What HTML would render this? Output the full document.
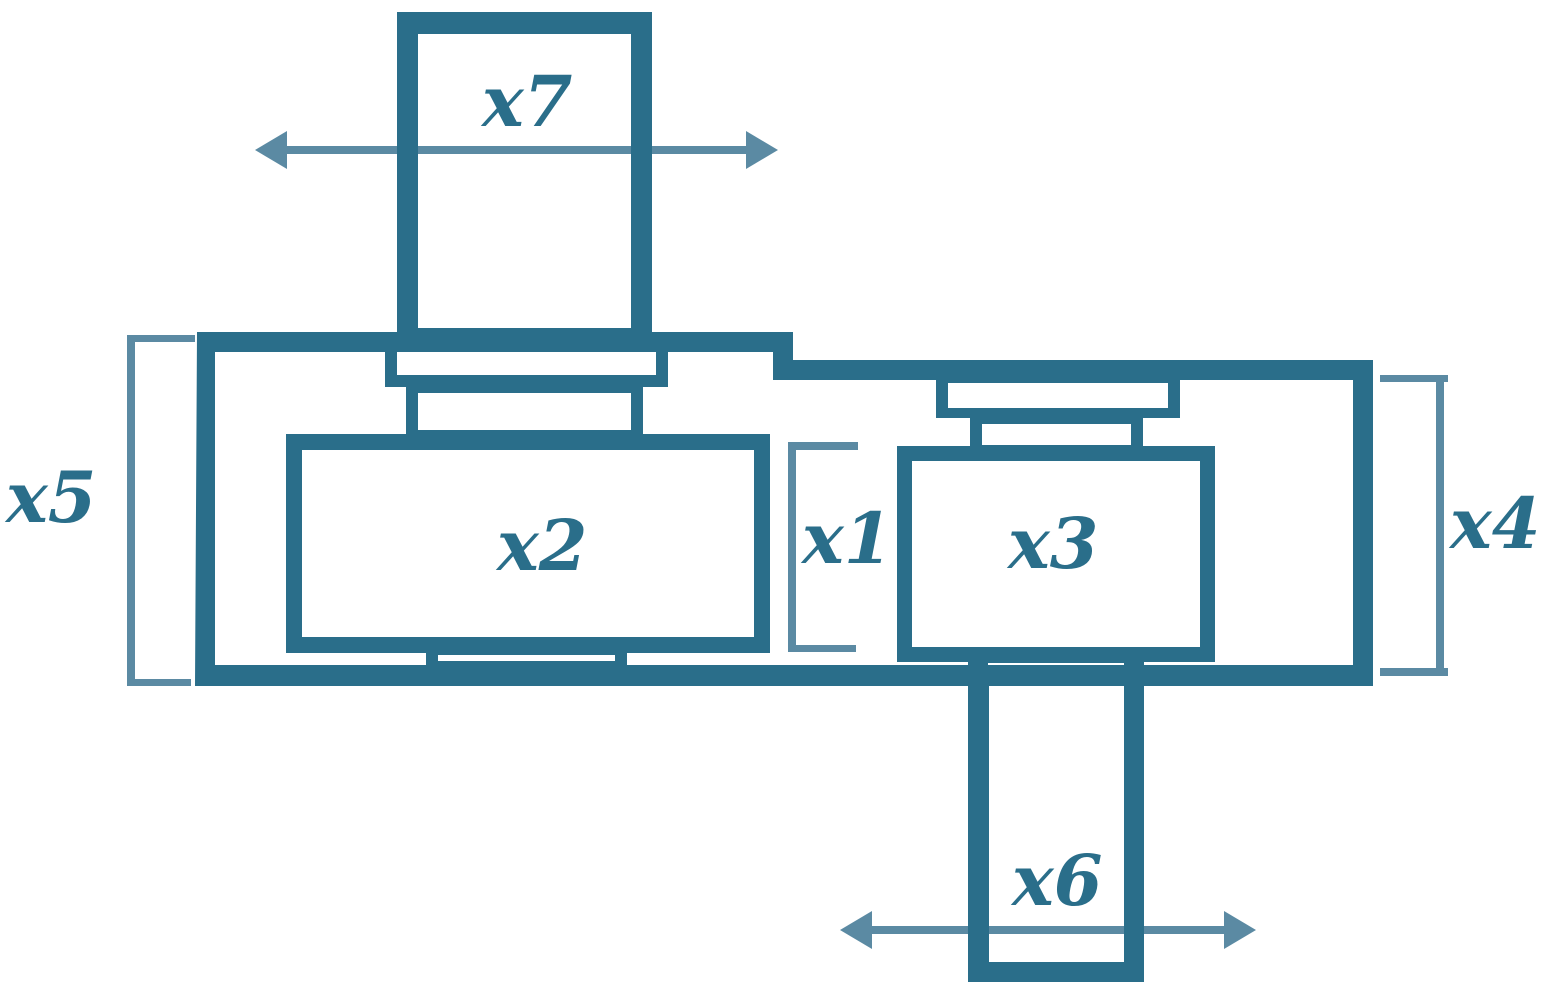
<!DOCTYPE html>
<html><head><meta charset="utf-8"><style>
html,body{margin:0;padding:0;background:#fff;}
svg{display:block;}
text{font-family:"DejaVu Serif","Liberation Serif",serif;font-weight:bold;font-style:italic;font-size:70px;fill:#2a6e8a;}
</style></head><body>
<svg width="1553" height="999" viewBox="0 0 1553 999" xmlns="http://www.w3.org/2000/svg">
<g fill="#5b8aa3">
<rect x="280" y="146" width="470" height="8"/>
<polygon points="255,150 287,131 287,169"/>
<polygon points="778,150 746,131 746,169"/>
<rect x="865" y="926" width="365" height="8"/>
<polygon points="840,930 872,911 872,949"/>
<polygon points="1256,930 1224,911 1224,949"/>
<rect x="127" y="335" width="8" height="351"/>
<rect x="127" y="335" width="68" height="7"/>
<rect x="127" y="679" width="64" height="7"/>
<rect x="788" y="442" width="8" height="210"/>
<rect x="788" y="442" width="70" height="8"/>
<rect x="788" y="645" width="68" height="7"/>
<rect x="1436" y="375" width="8" height="301"/>
<rect x="1380" y="375" width="68" height="7"/>
<rect x="1380" y="668" width="68" height="8"/>
</g>
<g fill="#2a6e8a" fill-rule="evenodd">
<path d="M397 12H652V336H397Z M418 34V328H631V34Z"/>
<path d="M197 332H793V360H1373V686H195Z M215 352V665H1353V380H773V352Z"/>
<path d="M385 352H668V387H385Z M397 352V375H656V352Z"/>
<path d="M406 387H643V436H406Z M418 393V430H631V393Z"/>
<path d="M286 434H770V653H286Z M302 450V637H754V450Z"/>
<path d="M426 652H627V668H426Z M438 655V661H615V655Z"/>
<path d="M936 380H1180V418H936Z M948 383V408H1168V383Z"/>
<path d="M970 416H1143V448H970Z M982 424V445H1131V424Z"/>
<path d="M897 446H1215V662H897Z M912 461V647H1200V461Z"/>
<path d="M968 660H1144V982H968Z M989 686V962H1124V686Z"/>
<rect x="968" y="660" width="176" height="26"/>
</g>
<rect x="988" y="663" width="136" height="2" fill="#fff"/>
<rect x="418" y="146" width="213" height="8" fill="#5b8aa3"/>
<rect x="989" y="926" width="135" height="8" fill="#5b8aa3"/>
<text x="482" y="126">x7</text>
<text x="497" y="570">x2</text>
<text x="802" y="563">x1</text>
<text x="1008" y="568">x3</text>
<text x="6" y="522">x5</text>
<text x="1450" y="548">x4</text>
<text x="1012" y="905">x6</text>
</svg>
</body></html>
